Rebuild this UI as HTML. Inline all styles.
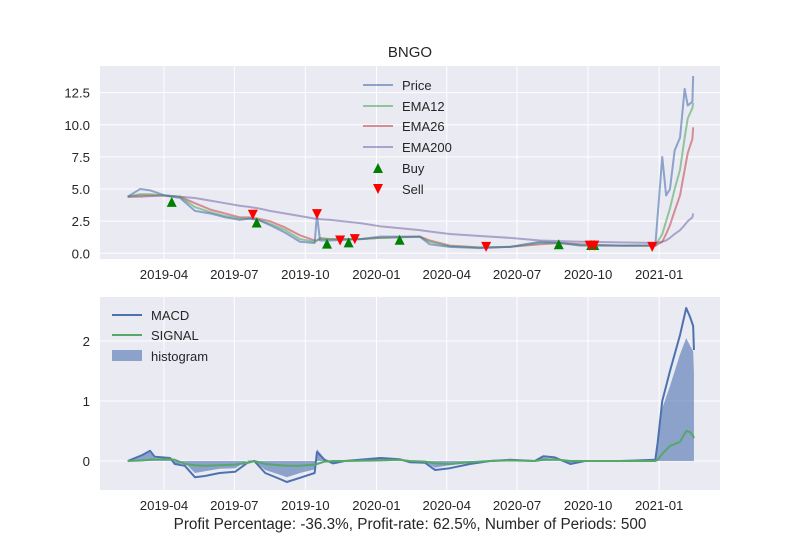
<!DOCTYPE html>
<html><head><meta charset="utf-8"><style>
body{margin:0;background:#fff;}
svg text{font-family:"Liberation Sans","DejaVu Sans",sans-serif;fill:#262626;}
</style></head><body>
<svg id="c" width="800" height="550" xmlns="http://www.w3.org/2000/svg">
<rect x="100" y="66" width="620" height="193" fill="#eaeaf2"/>
<rect x="100" y="297" width="620" height="193" fill="#eaeaf2"/>
<g id="grid"></g><g id="series"></g><g id="ticks"></g>
<text x="410" y="57" font-size="15" text-anchor="middle">BNGO</text>
<text x="410" y="529" font-size="15.3" text-anchor="middle">Profit Percentage: -36.3%, Profit-rate: 62.5%, Number of Periods: 500</text>
<g>
<line x1="363" y1="85" x2="393" y2="85" stroke="#4c72b0" stroke-opacity="0.6" stroke-width="2"/><text x="402" y="90" font-size="13">Price</text>
<line x1="363" y1="106" x2="393" y2="106" stroke="#55a868" stroke-opacity="0.6" stroke-width="2"/><text x="402" y="111" font-size="13">EMA12</text>
<line x1="363" y1="126" x2="393" y2="126" stroke="#c44e52" stroke-opacity="0.6" stroke-width="2"/><text x="402" y="131" font-size="13">EMA26</text>
<line x1="363" y1="147" x2="393" y2="147" stroke="#8172b2" stroke-opacity="0.6" stroke-width="2"/><text x="402" y="152" font-size="13">EMA200</text>
<path d="M378,163 L383,173 L373,173 Z" fill="green"/><text x="402" y="173" font-size="13">Buy</text>
<path d="M373,184 L383,184 L378,194 Z" fill="red"/><text x="402" y="194" font-size="13">Sell</text>
</g>
<g>
<line x1="112" y1="315" x2="142" y2="315" stroke="#4c72b0" stroke-width="2"/><text x="151" y="320" font-size="13">MACD</text>
<line x1="112" y1="335" x2="142" y2="335" stroke="#55a868" stroke-width="2"/><text x="151" y="340" font-size="13">SIGNAL</text>
<rect x="112" y="350" width="30" height="11" fill="#4c72b0" fill-opacity="0.6"/><text x="151" y="361" font-size="13">histogram</text>
</g>
</svg>
<script>
// days since 2019-04-01
const priceDays=[-47,-31,-18,1,21,40,60,79,98,111,122,137,157,176,195,198,202,215,254,280,331,344,370,409,448,487,513,539,590,636,645,650,655,661,668,674,678,684,685];
const price=[4.4,5.0,4.9,4.5,4.3,3.3,3.1,2.8,2.6,2.7,2.6,2.2,1.6,0.9,0.8,3.0,1.0,1.0,1.1,1.3,1.3,0.7,0.5,0.4,0.5,0.9,0.8,0.6,0.6,0.6,7.5,4.5,5.0,8.0,9.0,12.8,11.5,11.8,13.8];
const ema12=[4.4,4.6,4.6,4.5,4.4,3.6,3.2,2.9,2.7,2.7,2.6,2.3,1.8,1.1,0.9,1.0,1.2,1.1,1.1,1.2,1.3,0.9,0.55,0.45,0.5,0.8,0.8,0.65,0.6,0.6,1.5,2.5,3.5,5,6.5,9,10.5,11.3,11.7];
const ema26=[4.4,4.5,4.5,4.5,4.4,3.9,3.4,3.1,2.8,2.8,2.7,2.5,2.0,1.4,1.0,1.0,1.1,1.1,1.1,1.2,1.3,1.0,0.6,0.45,0.5,0.7,0.8,0.7,0.6,0.6,0.9,1.5,2.2,3.3,4.5,6.5,7.8,8.9,9.8];
const ema200=[4.4,4.4,4.45,4.5,4.4,4.3,4.1,3.9,3.7,3.6,3.5,3.3,3.1,2.9,2.7,2.7,2.65,2.6,2.35,2.1,1.8,1.7,1.5,1.35,1.2,1.0,0.95,0.9,0.85,0.8,0.9,1.0,1.2,1.5,1.8,2.2,2.5,2.8,3.1];
const buyDays=[10,120,211,239,305,511,553,557];
const buyVals=[4.0,2.4,0.75,0.85,1.05,0.7,0.65,0.65];
const sellDays=[115,198,228,247,417,551,557,632];
const sellVals=[3.0,3.05,1.0,1.1,0.5,0.6,0.6,0.5];
const macdDays=[-47,-28,-18,-12,8,14,27,40,53,72,92,109,117,131,150,159,176,195,198,208,219,234,280,305,318,338,351,370,396,422,448,480,491,506,526,545,590,636,639,645,655,668,676,681,685,686];
const macd=[0,0.1,0.17,0.07,0.05,-0.05,-0.08,-0.27,-0.25,-0.2,-0.18,-0.02,0,-0.2,-0.3,-0.35,-0.28,-0.2,0.15,0.02,-0.04,0,0.05,0.03,-0.02,-0.03,-0.15,-0.12,-0.05,0,0.02,0,0.08,0.06,-0.05,0,0,0.02,0.3,1.0,1.5,2.1,2.55,2.4,2.25,1.85];
const signal=[0,0.01,0.02,0.03,0.03,0.02,-0.05,-0.07,-0.08,-0.07,-0.06,-0.03,0,-0.05,-0.07,-0.08,-0.08,-0.06,-0.05,-0.01,0,0,0.01,0.02,0,-0.01,-0.04,-0.05,-0.02,0,0.01,0,0.02,0.03,0,0,0,0,0.02,0.12,0.25,0.32,0.5,0.48,0.42,0.38];
const tickDays=[0,91,183,275,366,457,549,641];
const tickLabels=["2019-04","2019-07","2019-10","2020-01","2020-04","2020-07","2020-10","2021-01"];
const yTop=[0,2.5,5,7.5,10,12.5];
const yTopLabels=["0.0","2.5","5.0","7.5","10.0","12.5"];
const yBot=[0,1,2];

const NS="http://www.w3.org/2000/svg";
const X=d=>164+d*0.7725;
const YT=v=>253.3-v*12.85;
const YB=v=>461-v*60;
function mk(tag,attrs,parent){const e=document.createElementNS(NS,tag);for(const k in attrs)e.setAttribute(k,attrs[k]);document.getElementById(parent).appendChild(e);return e;}
tickDays.forEach((d,i)=>{
  let g=mk('line',{x1:X(d),x2:X(d),y1:66,y2:259,stroke:'#fff','stroke-width':1},'grid');
  
  
  g=mk('line',{x1:X(d),x2:X(d),y1:297,y2:490,stroke:'#fff','stroke-width':1},'grid');
  
  
  for(const y of [279,510]){
    const t=mk('text',{x:X(d),y:y,'font-size':13.2,'text-anchor':'middle'},'ticks');t.textContent=tickLabels[i];
    
    
  }
});
yTop.forEach((v,i)=>{
  const g=mk('line',{x1:100,x2:720,y1:YT(v),y2:YT(v),stroke:'#fff','stroke-width':1},'grid');
  
  
  const t=mk('text',{x:90,y:YT(v)+5,'font-size':13.2,'text-anchor':'end'},'ticks');t.textContent=yTopLabels[i];
  
  
});
yBot.forEach(v=>{
  const g=mk('line',{x1:100,x2:720,y1:YB(v),y2:YB(v),stroke:'#fff','stroke-width':1},'grid');
  
  
  const t=mk('text',{x:90,y:YB(v)+5,'font-size':13.2,'text-anchor':'end'},'ticks');t.textContent=String(v);
  
  
});
function line(days,vals,Y,color,op,name){
  const p=mk('polyline',{points:days.map((d,i)=>X(d)+','+Y(vals[i])).join(' '),fill:'none',stroke:color,'stroke-opacity':op,'stroke-width':2,'stroke-linejoin':'round'},'series');
  
  
}
const hist=macd.map((m,i)=>m-signal[i]);
let hp='M'+X(macdDays[0])+','+YB(0)+' '+macdDays.map((d,i)=>'L'+X(d)+','+YB(hist[i])).join(' ')+' L'+X(macdDays[macdDays.length-1])+','+YB(0)+' Z';
const h=mk('path',{d:hp,fill:'#4c72b0','fill-opacity':0.6},'series');


line(priceDays,ema200,YT,'#8172b2',0.6,'ema200-line');
line(priceDays,ema26,YT,'#c44e52',0.6,'ema26-line');
line(priceDays,ema12,YT,'#55a868',0.6,'ema12-line');
line(priceDays,price,YT,'#4c72b0',0.6,'price-line');
line(macdDays,macd,YB,'#4c72b0',1,'macd-line');
line(macdDays,signal,YB,'#55a868',1,'signal-line');
buyDays.forEach((d,i)=>{
  const x=X(d),y=YT(buyVals[i]);
  const m=mk('path',{d:`M${x},${y-5} L${x+5},${y+5} L${x-5},${y+5} Z`,fill:'green'},'series');
  
  
});
sellDays.forEach((d,i)=>{
  const x=X(d),y=YT(sellVals[i]);
  const m=mk('path',{d:`M${x-5},${y-5} L${x+5},${y-5} L${x},${y+5} Z`,fill:'red'},'series');
  
  
});
</script>
</body></html>
